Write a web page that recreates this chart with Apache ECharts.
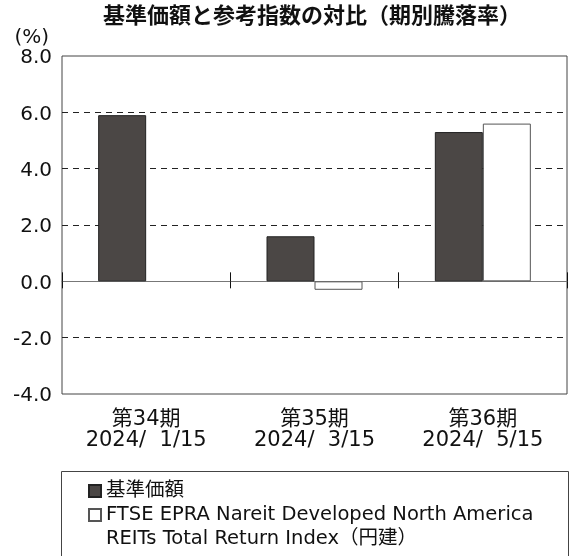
<!DOCTYPE html>
<html>
<head>
<meta charset="utf-8">
<script src="https://cdn.jsdelivr.net/npm/echarts@6/dist/echarts.min.js"></script>
<style>
html,body{margin:0;padding:0;background:#fff;}
#c{width:571px;height:556px;}
</style>
</head>
<body>
<div id="c"></div>
<script>
const titleText = '基準価額と参考指数の対比（期別騰落率）';
const categories = ['第34期\n2024/\u20071/15', '第35期\n2024/\u20073/15', '第36期\n2024/\u20075/15'];
const seriesNames = ['基準価額', 'FTSE EPRA Nareit Developed North America\nREITs Total Return Index（円建）'];
const navValues = [5.9, 1.6, 5.3];
const indexValues = [null, -0.3, 5.6];
const yTicks = [-4, -2, 0, 2, 4, 6, 8];

const FONT = '"DejaVu Sans", "Noto Sans CJK JP", sans-serif';
const chart = echarts.init(document.getElementById('c'), null, {renderer: 'canvas'});
const yMin = yTicks[0], yMax = yTicks[yTicks.length - 1];
chart.setOption({
  animation: false,
  backgroundColor: '#fff',
  textStyle: {fontFamily: FONT},
  title: {
    text: titleText,
    left: 307, top: -1, textAlign: 'center',
    textStyle: {fontSize: 22, fontWeight: 'bold', color: '#111', fontFamily: '"Noto Sans CJK JP", sans-serif'}
  },
  grid: {left: 62, right: 4, top: 56, bottom: 162, show: true, borderColor: '#444', borderWidth: 1, containLabel: false},
  xAxis: [
    {
      type: 'category', data: categories, position: 'bottom',
      axisLine: {show: false, onZero: false}, axisTick: {show: false},
      axisLabel: {fontSize: 21, color: '#111', lineHeight: 21, margin: 15, fontFamily: FONT}
    },
    {
      type: 'category', data: categories, position: 'bottom',
      axisLine: {show: true, onZero: true, onZeroAxisIndex: 0, lineStyle: {color: '#777', width: 1}},
      axisTick: {show: true, inside: true, length: 9, lineStyle: {color: '#111'}},
      axisLabel: {show: false}
    },
    {
      type: 'category', data: categories, position: 'bottom',
      axisLine: {show: true, onZero: true, onZeroAxisIndex: 1, lineStyle: {color: 'rgba(0,0,0,0)', width: 1}},
      axisTick: {show: true, inside: false, length: 7, lineStyle: {color: '#111'}},
      axisLabel: {show: false}
    }
  ],
  yAxis: [
    {
      type: 'value', min: yMin, max: yMax, interval: 2,
      name: '(%)', nameLocation: 'end', nameGap: 18,
      nameTextStyle: {fontSize: 20, color: '#111', align: 'right', verticalAlign: 'middle', padding: [0, 13, 0, 0], fontFamily: FONT},
      axisLine: {show: false}, axisTick: {show: false},
      axisLabel: {
        fontSize: 20, color: '#111', margin: 10, fontFamily: FONT,
        formatter: v => '{v|' + v.toFixed(1) + '}',
        rich: {v: {fontSize: 20, color: '#111', fontFamily: FONT, padding: [4, 0, 0, 0]}}
      },
      splitLine: {show: true, lineStyle: {type: [6, 5], width: 1, color: ['rgba(0,0,0,0)', '#222', 'rgba(0,0,0,0)', '#222', '#222', '#222', 'rgba(0,0,0,0)']}}
    },
    {
      type: 'value', min: yMin, max: yMax, interval: 2, show: false,
      axisLine: {show: false}, axisTick: {show: false}, axisLabel: {show: false}, splitLine: {show: false}
    }
  ],
  legend: {
    orient: 'vertical', left: 88, top: 479, height: 300, padding: 0, itemWidth: 12, itemHeight: 12, itemGap: -24,
    icon: 'rect',
    formatter: name => (name === seriesNames[1] ? '\n' + name : name),
    textStyle: {fontSize: 19.5, color: '#111', lineHeight: 24, fontFamily: FONT},
    data: [seriesNames[0], seriesNames[1]]
  },
  graphic: [
    {type: 'rect', shape: {x: 61.5, y: 471.5, width: 507, height: 120}, style: {fill: 'none', stroke: '#444', lineWidth: 1}, silent: true}
  ],
  series: [
    {
      name: seriesNames[0], type: 'bar', data: navValues, barWidth: 48, barGap: '0%', xAxisIndex: 0,
      itemStyle: {color: '#4b4745', borderColor: '#222', borderWidth: 1}
    },
    {
      name: seriesNames[1], type: 'bar', data: indexValues, barWidth: 48, barGap: '0%', xAxisIndex: 0,
      itemStyle: {color: '#fff', borderColor: '#555', borderWidth: 1}
    }
  ]
});
</script>
</body>
</html>
